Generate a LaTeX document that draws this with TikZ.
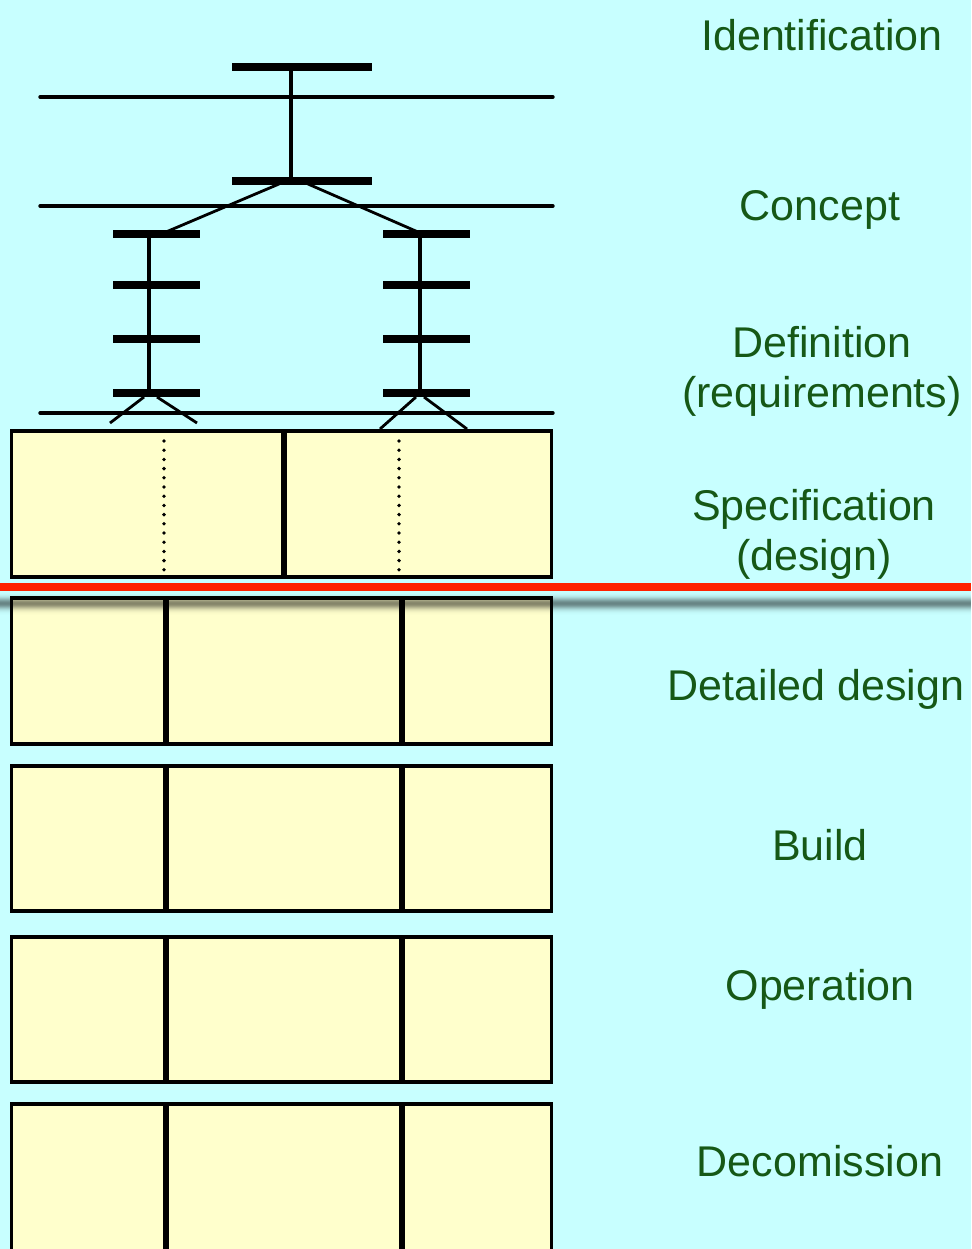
\documentclass[tikz,border=0pt]{standalone}
\usepackage{fontspec}
\setmainfont{Liberation Sans}
\definecolor{bgc}{RGB}{200,255,255}
\definecolor{boxc}{RGB}{255,255,204}
\definecolor{txtc}{RGB}{22,88,22}
\definecolor{redc}{RGB}{255,34,0}
\begin{document}
\begin{tikzpicture}[x=1pt,y=-1pt,
  bar/.style={line width=8.5pt},
  hline/.style={line width=3.4pt,line cap=round},
  stem/.style={line width=4pt},
  diag/.style={line width=2.8pt},
  phase/.style={draw=black,line width=3.6pt,fill=boxc},
  divider/.style={line width=6.5pt},
  dotline/.style={line width=3.8pt,line cap=round,dash pattern=on 0pt off 9.2pt},
  lbl/.style={text=txtc,font=\fontsize{43}{50}\selectfont,align=center,inner sep=0pt}]
\useasboundingbox (0,0) rectangle (971,1249);
\fill[bgc] (0,0) rectangle (971,1249);
\begin{scope}
\clip (0,0) rectangle (971,1249);
% horizontal gate lines
\draw[hline] (40,97) -- (553,97);
\draw[hline] (40,206) -- (553,206);
\draw[hline] (40,413) -- (553,413);
% top T
\draw[stem] (291,67) -- (291,181);
\draw[bar] (232,67) -- (372,67);
\draw[bar] (232,181) -- (372,181);
% branches
\draw[diag] (279,184) -- (166,232);
\draw[diag] (308,184) -- (418,232);
\draw[stem] (149,234) -- (149,393);
\draw[stem] (420,234) -- (420,393);
\foreach \yy in {234,285,339,393}{
  \draw[bar] (113,\yy) -- (200,\yy);
  \draw[bar] (383,\yy) -- (470,\yy);
}
\draw[diag] (144,397) -- (110,423);
\draw[diag] (157,397) -- (197,423);
\draw[diag] (416,397) -- (380,429);
\draw[diag] (424,397) -- (467,429);
% specification box
\draw[phase] (11.5,431) rectangle (551.5,577);
\draw[divider] (284,431) -- (284,577);
\draw[dotline] (164,441) -- (164,570);
\draw[dotline] (399,441) -- (399,570);
% lower phase boxes
\foreach \ya/\yb in {598/744,766/911,937/1082,1104/1260}{
  \draw[phase] (11.5,\ya) rectangle (551.5,\yb);
  \draw[divider] (166,\ya) -- (166,\yb);
  \draw[divider] (402,\ya) -- (402,\yb);
}
% red separator and shadow
\fill[redc] (0,583) rectangle (971,591);
\foreach \i in {0,...,22}{
  \pgfmathsetmacro{\op}{0.48*exp(-((\i-11)/5.5)^2)}
  \fill[black,opacity=\op] (0,592+\i) rectangle (971,593.05+\i);
}
\end{scope}
% labels
\node[lbl] (identification) at (822,35) {Identification};
\node[lbl] (concept) at (820,210) {Concept};
\node[lbl] (definition) at (822,371) {Definition\\(requirements)};
\node[lbl] (specification) at (814,534) {Specification\\(design)};
\node[lbl] (detailed) at (816,689) {Detailed design};
\node[lbl] (build) at (820,845) {Build};
\node[lbl] (operation) at (820,989) {Operation};
\node[lbl] (decomission) at (820,1161) {Decomission};
\end{tikzpicture}
\end{document}
